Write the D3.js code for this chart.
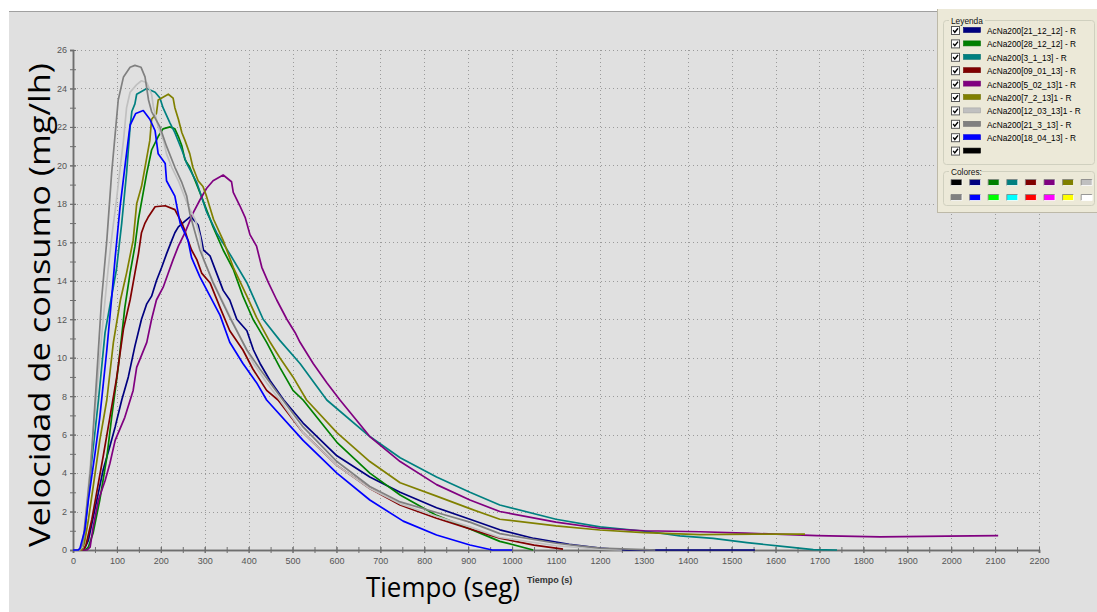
<!DOCTYPE html>
<html><head><meta charset="utf-8">
<script src="https://cdn.jsdelivr.net/npm/d3@7"></script>
<style>body{margin:0;background:#fff;overflow:hidden}svg{display:block}</style>
</head><body>
<svg id="chart" width="1097" height="612"></svg>
<script>
// ---------- DATA ----------
const seriesNames = ["AcNa200[21_12_12] - R","AcNa200[28_12_12] - R","AcNa200[3_1_13] - R","AcNa200[09_01_13] - R","AcNa200[5_02_13]1 - R","AcNa200[7_2_13]1 - R","AcNa200[12_03_13]1 - R","AcNa200[21_3_13] - R","AcNa200[18_04_13] - R"];
const seriesColors = ["#000080","#008000","#008080","#800000","#800080","#808000","#c0c0c0","#808080","#0000ff"];
const paletteColors = ["#000000","#000080","#008000","#008080","#800000","#800080","#808000","#c0c0c0","#808080","#0000ff","#00ff00","#00ffff","#ff0000","#ff00ff","#ffff00","#ffffff"];
const xTickLabels = [0,100,200,300,400,500,600,700,800,900,1000,1100,1200,1300,1400,1500,1600,1700,1800,1900,2000,2100,2200];
const yTickLabels = [0,2,4,6,8,10,12,14,16,18,20,22,24,26];

// [time (s), rate (mg/lh)]
const s_21_12_12 = [[0,0],[25,0],[35,0.5],[46,1.7],[58,3.0],[69,4.2],[84,5.4],[96,6.4],[111,7.8],[126,9.0],[141,10.6],[156,12.0],[168,12.8],[179,13.2],[190,14.0],[202,14.7],[213,15.4],[225,16.1],[232,16.5],[240,16.8],[255,17.1],[268,17.35],[285,16.9],[293,16.1],[297,15.6],[312,15.3],[327,14.4],[342,13.5],[357,13.0],[373,12.0],[396,11.4],[411,10.4],[426,9.7],[449,8.8],[480,7.8],[524,6.6],[601,4.9],[676,3.8],[745,3.0],[828,2.2],[904,1.6],[972,1.05],[1050,0.6],[1130,0.3],[1200,0.1],[1260,0],[1553,0]];
const s_28_12_12 = [[0,0],[28,0],[35,0.15],[46,0.9],[61,2.6],[77,4.8],[88,6.9],[103,9.5],[118,12.6],[130,14.4],[141,15.8],[149,17.2],[160,18.6],[168,19.6],[179,20.8],[194,21.5],[205,21.9],[221,22.0],[232,21.9],[240,21.5],[248,21.0],[255,20.3],[266,19.9],[273,19.5],[289,18.6],[304,17.7],[319,16.8],[342,15.6],[365,14.6],[387,13.2],[410,12.0],[441,10.8],[471,9.5],[501,8.3],[524,7.8],[601,5.6],[676,4.0],[745,2.86],[828,1.8],[904,1.1],[972,0.45],[1048,0]];
const s_3_1_13 = [[0,0],[18,0],[24,0.4],[31,1.9],[43,4.7],[58,7.8],[73,11.3],[99,14.6],[111,17.0],[122,19.6],[130,22.0],[134,22.8],[141,23.2],[145,23.7],[168,24.0],[187,23.8],[198,23.5],[205,23.0],[221,22.2],[232,21.7],[248,20.8],[259,20.1],[282,19.1],[304,17.6],[327,16.5],[357,15.4],[396,13.9],[433,12.0],[471,10.9],[517,9.7],[578,7.8],[676,5.9],[745,4.8],[828,3.8],[904,3.0],[972,2.34],[1100,1.6],[1200,1.2],[1314,0.95],[1382,0.73],[1458,0.6],[1535,0.38],[1610,0.2],[1686,0.02],[1740,0]];
const s_09_01_13 = [[0,0],[24,0],[30,0.3],[43,1.6],[54,3.0],[69,4.9],[84,6.9],[99,8.9],[115,11.5],[130,13.0],[141,14.4],[149,15.4],[156,16.5],[164,17.0],[171,17.3],[187,17.85],[210,17.9],[232,17.7],[248,17.0],[255,16.6],[262,16.1],[270,15.6],[282,15.1],[293,14.4],[312,13.9],[335,12.6],[357,11.4],[387,10.4],[410,9.4],[441,8.3],[467,7.8],[524,6.1],[601,4.4],[676,3.2],[745,2.34],[828,1.65],[904,1.1],[972,0.62],[1050,0.25],[1116,0.05]];
const s_5_02_13 = [[0,0],[32,0],[39,0.15],[46,1.2],[58,2.6],[73,3.6],[84,4.5],[96,5.7],[118,6.9],[137,8.3],[145,9.5],[168,10.8],[179,12.0],[190,13.0],[206,13.7],[217,14.4],[228,15.1],[240,15.8],[255,16.5],[266,17.1],[273,17.5],[289,18.2],[304,18.8],[319,19.2],[342,19.5],[361,19.15],[365,18.6],[380,17.9],[392,17.3],[403,16.4],[418,15.8],[430,14.7],[445,13.9],[464,13.0],[487,12.0],[506,11.3],[517,10.8],[547,9.7],[578,8.7],[608,7.8],[676,5.9],[745,4.6],[828,3.4],[904,2.6],[972,2.0],[1100,1.45],[1200,1.13],[1300,1.0],[1428,0.95],[1530,0.88],[1694,0.75],[1838,0.68],[1990,0.72],[2107,0.75]];
const s_7_2_13 = [[0,0],[20,0],[26,0.36],[35,1.56],[46,3.3],[61,5.7],[77,7.8],[92,10.8],[108,13.0],[122,14.4],[137,16.1],[145,18.0],[156,18.9],[164,19.9],[175,21.3],[179,22.4],[190,22.7],[194,23.4],[217,23.7],[228,23.5],[232,23.0],[240,22.4],[248,21.7],[255,21.3],[266,20.6],[273,19.9],[285,19.2],[296,18.9],[304,18.4],[320,17.2],[342,16.1],[365,14.7],[396,13.2],[418,12.1],[449,10.8],[471,10.0],[501,9.0],[532,7.8],[601,6.1],[676,4.6],[745,3.5],[828,2.8],[904,2.15],[972,1.6],[1100,1.25],[1200,1.04],[1300,0.9],[1428,0.8],[1550,0.83],[1667,0.83]];
const s_12_03_13 = [[0,0],[15,0],[21,0.15],[27,1.2],[35,3.3],[46,6.1],[58,9.3],[70,12.3],[80,14.6],[90,16.6],[99,18.2],[107,19.8],[115,21.3],[122,23.0],[130,23.8],[145,24.2],[156,24.4],[168,24.3],[179,23.7],[183,23.05],[194,22.0],[206,21.3],[213,20.6],[225,19.9],[240,19.2],[251,18.55],[263,17.85],[278,17.2],[289,16.3],[297,15.1],[320,13.9],[350,12.5],[380,11.1],[411,9.7],[441,8.7],[471,7.8],[524,6.1],[601,4.4],[676,3.2],[745,2.4],[828,1.75],[904,1.2],[972,0.65],[1100,0.22],[1200,0.05],[1250,0]];
const s_21_3_13 = [[0,0],[15,0],[22,0.3],[30,2.0],[40,4.2],[54,9.0],[65,13.0],[77,16.1],[88,19.6],[103,23.4],[115,24.6],[130,25.1],[141,25.2],[155,25.1],[164,24.6],[172,23.4],[179,22.8],[198,22.0],[213,21.0],[232,19.9],[248,19.1],[259,18.4],[266,17.5],[289,15.6],[319,13.9],[357,12.1],[396,10.4],[426,9.4],[478,7.8],[524,6.4],[601,4.6],[676,3.3],[745,2.5],[828,1.95],[904,1.45],[972,0.85],[1100,0.35],[1200,0.1],[1300,0.02],[1326,0]];
const s_18_04_13 = [[0,0],[12,0],[16,0.1],[27,1.04],[35,2.6],[50,5.0],[61,6.9],[77,10.4],[88,13.1],[96,15.2],[107,17.8],[118,19.9],[130,22.1],[143,22.7],[160,22.85],[175,22.4],[187,21.8],[194,20.6],[210,20.1],[213,19.2],[232,18.4],[244,17.0],[262,16.1],[270,15.2],[289,14.2],[312,13.2],[335,12.2],[357,10.8],[387,9.7],[418,8.7],[441,7.8],[524,5.7],[601,4.0],[676,2.6],[752,1.5],[828,0.78],[904,0.26],[955,0],[1000,0]];
const seriesData = [s_21_12_12,s_28_12_12,s_3_1_13,s_09_01_13,s_5_02_13,s_7_2_13,s_12_03_13,s_21_3_13,s_18_04_13];

// ---------- DRAW ----------
const svg = d3.select("#chart");
svg.append("rect").attr("x",9).attr("y",11).attr("width",1088).attr("height",601).attr("fill","#e0e0e0");
svg.append("line").attr("x1",9).attr("x2",1097).attr("y1",11.5).attr("y2",11.5).attr("stroke","#a0a0a0");

const x = d3.scaleLinear().domain([0,2200]).range([73,1039]);
const y = d3.scaleLinear().domain([0,26]).range([550,50]);

// grid
const grid = svg.append("g").attr("stroke","#9a9a9a").attr("stroke-dasharray","1,3").attr("stroke-width",1);
grid.selectAll(".gx").data(xTickLabels.filter(d=>d>0)).join("line")
  .attr("x1",d=>Math.round(x(d))+0.5).attr("x2",d=>Math.round(x(d))+0.5).attr("y1",y(26)).attr("y2",y(0));
grid.selectAll(".gy").data(yTickLabels.filter(d=>d>0)).join("line")
  .attr("y1",d=>Math.round(y(d))+0.5).attr("y2",d=>Math.round(y(d))+0.5).attr("x1",x(0)).attr("x2",x(2200));

// axes
const axisColor = "#6e6e6e";
const xMinor = d3.range(0,2201,50);
const yMinor = d3.range(0,26.01,1);
const xa = svg.append("g").attr("transform","translate(0,550)")
  .call(d3.axisBottom(x).tickValues(xMinor).tickSize(3).tickFormat(""));
const xl = svg.append("g").attr("transform","translate(0,550)")
  .call(d3.axisBottom(x).tickValues(xTickLabels).tickSize(3).tickPadding(5).tickFormat(d=>d));
const ya = svg.append("g").attr("transform","translate(73,0)")
  .call(d3.axisLeft(y).tickValues(yMinor).tickSize(3).tickFormat(""));
const yl = svg.append("g").attr("transform","translate(73,0)")
  .call(d3.axisLeft(y).tickValues(yTickLabels).tickSize(3).tickPadding(3).tickFormat(d=>d));
[xa,xl,ya,yl].forEach(g=>{
  g.select(".domain").attr("stroke",axisColor).attr("stroke-width",1.5);
  g.selectAll(".tick line").attr("stroke",axisColor);
  g.selectAll("text").attr("fill","#555").attr("font-family","'Liberation Sans Narrow','Liberation Sans',Arial,sans-serif").attr("font-size","9px");
});
xa.selectAll(".tick line").attr("y1",-3);
ya.selectAll(".tick line").attr("x1",3);
xl.selectAll(".tick line").attr("y1",-3);
yl.selectAll(".tick line").attr("x1",3);

// series
const line = d3.line().x(d=>x(d[0])).y(d=>y(d[1]));
svg.append("g").selectAll("path").data(seriesData).join("path")
  .attr("d",line).attr("fill","none")
  .attr("stroke",(d,i)=>seriesColors[i]).attr("stroke-width",1.7).attr("stroke-linejoin","round");

// axis titles
svg.append("text").attr("transform","translate(50,305) rotate(-90)")
  .attr("text-anchor","middle").attr("font-family","'Open Sans',sans-serif").attr("font-size","30px")
  .attr("fill","#000").attr("textLength",484).attr("lengthAdjust","spacingAndGlyphs")
  .text("Velocidad de consumo (mg/lh)");
svg.append("text").attr("x",366).attr("y",597)
  .attr("font-family","'Open Sans',sans-serif").attr("font-size","27px")
  .attr("fill","#000").attr("textLength",154).attr("lengthAdjust","spacingAndGlyphs")
  .text("Tiempo (seg)");
svg.append("text").attr("x",527).attr("y",583)
  .attr("font-family","'Liberation Sans',Arial,sans-serif").attr("font-size","9px").attr("font-weight","bold")
  .attr("fill","#333").text("Tiempo (s)");

// legend panel
const lg = svg.append("g");
lg.append("rect").attr("x",937).attr("y",9).attr("width",160).attr("height",204).attr("fill","#ece9d8");
lg.append("line").attr("x1",937.5).attr("x2",937.5).attr("y1",9).attr("y2",213).attr("stroke","#bdb9a8");
lg.append("line").attr("x1",937).attr("x2",1097).attr("y1",212.5).attr("y2",212.5).attr("stroke","#bdb9a8");
lg.append("rect").attr("x",943.5).attr("y",20.5).attr("width",151).attr("height",144).attr("rx",3)
  .attr("fill","none").attr("stroke","#d0d0bf");
lg.append("rect").attr("x",949).attr("y",15).attr("width",36).attr("height",10).attr("fill","#ece9d8");
lg.append("text").attr("x",951).attr("y",23.5).attr("font-family","'Liberation Sans',Arial,sans-serif")
  .attr("font-size","8.3px").attr("fill","#111").text("Leyenda");
const rowColors = seriesColors.concat(["#000000"]);
const rowLabels = seriesNames.concat([""]);
rowColors.forEach((c,i)=>{
  const cy = 31 + 13.4*i;
  lg.append("rect").attr("x",951.5).attr("y",cy-4.5).attr("width",8).attr("height",8).attr("fill","#fff").attr("stroke","#555");
  lg.append("path").attr("d",`M${953.2},${cy-0.8} L${954.8},${cy+1.3} L${958},${cy-2.8}`)
    .attr("fill","none").attr("stroke","#000").attr("stroke-width",1.4);
  lg.append("rect").attr("x",963.5).attr("y",cy-3.5).attr("width",17).attr("height",5)
    .attr("fill",c).attr("stroke",d3.color(c).darker(0.4)).attr("stroke-width",0.6);
  if (rowLabels[i]) lg.append("text").attr("x",987).attr("y",cy+3).attr("font-family","'Liberation Sans',Arial,sans-serif")
    .attr("font-size","8.3px").attr("fill","#000").text(rowLabels[i]);
});
lg.append("rect").attr("x",943.5).attr("y",171.5).attr("width",151).attr("height",34).attr("rx",3)
  .attr("fill","none").attr("stroke","#d0d0bf");
lg.append("rect").attr("x",949).attr("y",166).attr("width",32).attr("height",10).attr("fill","#ece9d8");
lg.append("text").attr("x",951).attr("y",174.5).attr("font-family","'Liberation Sans',Arial,sans-serif")
  .attr("font-size","8.3px").attr("fill","#111").text("Colores:");
paletteColors.forEach((c,i)=>{
  const col = i%8, row = Math.floor(i/8);
  const px = 951 + col*18.6, py = 179.5 + row*15;
  lg.append("rect").attr("x",px).attr("y",py).attr("width",11).attr("height",6).attr("fill",c);
  lg.append("path").attr("d",`M${px},${py+6} V${py} H${px+11}`).attr("fill","none").attr("stroke","#808080").attr("stroke-width",0.8);
  lg.append("path").attr("d",`M${px+11},${py} V${py+6} H${px}`).attr("fill","none").attr("stroke","#ffffff").attr("stroke-width",0.8);
});
</script>
</body></html>
